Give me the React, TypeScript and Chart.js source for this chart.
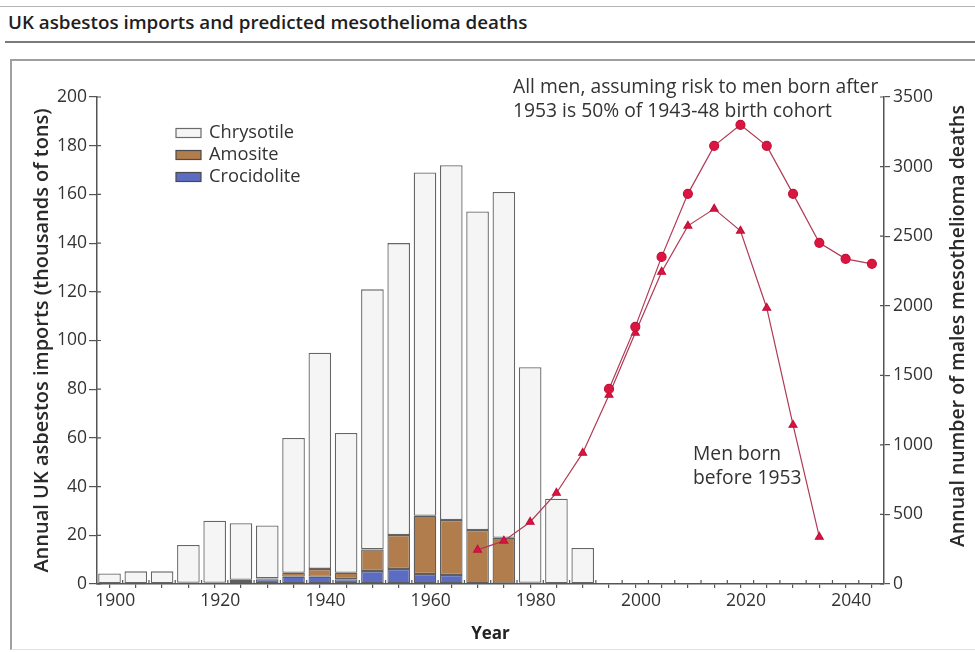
import React, { useEffect, useRef } from 'react';
import { Chart, registerables } from 'chart.js';

Chart.register(...registerables);

// ---------- data ----------
const barYears = [1900, 1905, 1910, 1915, 1920, 1925, 1930, 1935, 1940, 1945, 1950, 1955, 1960, 1965, 1970, 1975, 1980, 1985, 1990];
const crocidolite = [0, 0, 0, 0.5, 0.5, 1.2, 2, 3, 3, 2, 5.3, 6.2, 4.1, 3.7, 0.3, 0.2, 0, 0, 0];
const amosite = [0, 0, 0, 0, 0, 0.5, 0.3, 1.6, 3.2, 2.6, 8.9, 13.9, 23.9, 22.6, 21.9, 18.8, 0.5, 0, 0];
const chrysotile = [4.3, 5.2, 5.2, 15.5, 25.5, 23.3, 21.7, 55.4, 88.8, 57.4, 106.8, 119.9, 141, 145.7, 130.8, 142, 88.5, 35, 14.8];

const bornBeforeYears = [1970, 1975, 1980, 1985, 1990, 1995, 2000, 2005, 2010, 2015, 2020, 2025, 2030, 2035];
const bornBefore1953 = [245, 310, 446, 654, 942, 1359, 1805, 2243, 2574, 2696, 2538, 1984, 1143, 338];

const allMenYears = [1995, 2000, 2005, 2010, 2015, 2020, 2025, 2030, 2035, 2040, 2045];
const allMen = [1402, 1848, 2351, 2804, 3149, 3300, 3149, 2804, 2452, 2337, 2301];

const xTickLabels = ['1900', '1920', '1940', '1960', '1980', '2000', '2020', '2040'];

const seriesLabels = ['Crocidolite', 'Amosite', 'Chrysotile'];
const annotationAllMen = ['All men, assuming risk to men born after', '1953 is 50% of 1943-48 birth cohort'];
const annotationBefore = ['Men born', 'before 1953'];
const leftTitle = 'Annual UK asbestos imports (thousands of tons)';
const rightTitle = 'Annual number of males mesothelioma deaths';
const xTitle = 'Year';
const chartTitle = 'UK asbestos imports and predicted mesothelioma deaths';

// ---------- style ----------
const FONT = '"Open Sans", "Noto Sans", sans-serif';
const AXIS = '#555555';
const TEXT = '#333333';
const C_CHRY = '#f5f5f5';
const C_AMO = '#b27d4c';
const C_CROC = '#5b6cc2';
const C_EDGE = '#5e5e5e';
const C_MARK = '#dc1440';
const C_LINE = '#b03a55';

const toPoints = (xs: number[], ys: number[]) => xs.map((x, i) => ({ x, y: ys[i] }));

const overlayPlugin = {
  id: 'overlay',
  afterDraw(chart: any) {
    const { ctx, chartArea, scales } = chart;
    if (!chartArea || !scales.x || !scales.y || !scales.y2) return;
    ctx.save();
    // inward half of crossing tick marks
    ctx.strokeStyle = AXIS;
    ctx.lineWidth = 1.2;
    ctx.beginPath();
    scales.x.ticks.forEach((t: any) => {
      const px = scales.x.getPixelForValue(t.value);
      ctx.moveTo(px, chartArea.bottom);
      ctx.lineTo(px, chartArea.bottom - 4);
    });
    scales.y.ticks.forEach((t: any) => {
      const py = scales.y.getPixelForValue(t.value);
      ctx.moveTo(chartArea.left, py);
      ctx.lineTo(chartArea.left + 4, py);
    });
    scales.y2.ticks.forEach((t: any) => {
      const py = scales.y2.getPixelForValue(t.value);
      ctx.moveTo(chartArea.right, py);
      ctx.lineTo(chartArea.right - 4, py);
    });
    ctx.stroke();

    // legend (Chrysotile, Amosite, Crocidolite)
    ctx.font = `18.3px ${FONT}`;
    ctx.textBaseline = 'middle';
    ctx.textAlign = 'left';
    [2, 1, 0].forEach((di, i) => {
      const ds = chart.data.datasets[di];
      if (!ds) return;
      const cy = chartArea.top + 36 + i * 22;
      const sx = chartArea.left + 79;
      ctx.fillStyle = ds.backgroundColor;
      ctx.fillRect(sx, cy - 4.5, 25, 9);
      ctx.strokeStyle = di === 2 ? '#6a6a6a' : '#4a4a4a';
      ctx.lineWidth = 1.2;
      ctx.strokeRect(sx, cy - 4.5, 25, 9);
      ctx.fillStyle = TEXT;
      ctx.fillText(ds.label, sx + 33, cy);
    });

    // annotations
    ctx.fillStyle = TEXT;
    ctx.font = `19.3px ${FONT}`;
    annotationAllMen.forEach((s, i) => ctx.fillText(s, chartArea.left + 416, chartArea.top - 9 + i * 24));
    annotationBefore.forEach((s, i) => ctx.fillText(s, chartArea.left + 596, chartArea.top + 358 + i * 24));

    // right axis title (reads bottom to top)
    ctx.save();
    ctx.translate(chartArea.right + 74, chartArea.top + 229);
    ctx.rotate(-Math.PI / 2);
    ctx.textAlign = 'center';
    ctx.font = `600 19.5px ${FONT}`;
    ctx.fillStyle = '#2a2a2a';
    ctx.fillText(rightTitle, 0, 0);
    ctx.restore();

    ctx.restore();
  },
};

export default function App() {
  const ref = useRef<HTMLCanvasElement | null>(null);

  useEffect(() => {
    document.body.style.margin = '0';
    document.body.style.background = '#ffffff';
    const canvas = ref.current;
    if (!canvas) return;

    // bar datasets (stacked bottom-to-top: Crocidolite, Amosite, Chrysotile)
    const barValues = [crocidolite, amosite, chrysotile];
    const barColors = [C_CROC, C_AMO, C_CHRY];
    const barSets = barValues.map((vals, i) => ({
      type: 'bar',
      label: seriesLabels[i],
      data: toPoints(barYears, vals),
      yAxisID: 'y',
      stack: 'imports',
      backgroundColor: barColors[i],
      borderColor: i === 2 ? '#666666' : C_EDGE,
      borderWidth: 1.3,
      borderSkipped: false,
      barPercentage: 0.86,
      categoryPercentage: 1,
      order: 2,
    }));

    const lineSets = [
      {
        type: 'line',
        label: 'All men',
        data: toPoints(allMenYears, allMen),
        yAxisID: 'y2',
        borderColor: C_LINE,
        borderWidth: 1.2,
        backgroundColor: C_MARK,
        pointBackgroundColor: C_MARK,
        pointBorderColor: '#c0123a',
        pointRadius: 4.5,
        pointStyle: 'circle',
        order: 0,
      },
      {
        type: 'line',
        label: 'Men born before 1953',
        data: toPoints(bornBeforeYears, bornBefore1953),
        yAxisID: 'y2',
        borderColor: C_LINE,
        borderWidth: 1.2,
        backgroundColor: C_MARK,
        pointBackgroundColor: C_MARK,
        pointBorderColor: '#c0123a',
        pointRadius: 4.5,
        pointStyle: 'triangle',
        order: 1,
      },
    ];

    const chart = new Chart(canvas, {
      type: 'bar',
      data: { datasets: [...barSets, ...lineSets] },
      options: {
        responsive: true,
        maintainAspectRatio: false,
        animation: false,
        layout: { padding: { top: 36, left: 0, right: 0, bottom: 0 } },
        plugins: { legend: { display: false }, tooltip: { enabled: false }, title: { display: false } },
        scales: {
          x: {
            type: 'linear',
            min: 1897.62,
            max: 2047.3,
            offset: false,
            afterBuildTicks: (scale: any) => {
              const t = [];
              for (let v = 1902.5; v < 2047; v += 5) t.push({ value: v });
              scale.ticks = t;
            },
            afterFit: (scale: any) => {
              scale.height = 68;
            },
            ticks: {
              autoSkip: false,
              maxRotation: 0,
              padding: 3,
              labelOffset: -7.5,
              color: TEXT,
              font: { family: FONT, size: 17.5 },
              callback: (value: any) => {
                const lbl = xTickLabels.find((l) => Math.abs(Number(l) + 2.5 - Number(value)) < 0.01);
                return lbl ?? '';
              },
            },
            grid: { display: true, drawOnChartArea: false, drawTicks: true, tickLength: 4, color: AXIS, lineWidth: 1.2 },
            border: { display: true, color: AXIS, width: 1.5 },
            title: { display: true, text: xTitle, color: '#222', font: { family: FONT, size: 17, weight: 'bold' }, padding: { top: 0, bottom: 8 } },
          },
          y: {
            type: 'linear',
            position: 'left',
            stacked: true,
            min: 0,
            max: 200,
            afterFit: (scale: any) => {
              scale.width = 85;
            },
            ticks: { stepSize: 20, padding: 2, color: TEXT, font: { family: FONT, size: 17.5 } },
            grid: { display: true, drawOnChartArea: false, drawTicks: true, tickLength: 8, color: AXIS, lineWidth: 1.2 },
            border: { display: true, color: AXIS, width: 1.5 },
            title: { display: true, text: leftTitle, color: '#2a2a2a', font: { family: FONT, size: 20, weight: '600' }, padding: { top: 18, bottom: 0 } },
          },
          y2: {
            type: 'linear',
            position: 'right',
            min: 0,
            max: 3500,
            afterFit: (scale: any) => {
              scale.width = 91;
            },
            ticks: {
              stepSize: 500,
              padding: 3,
              color: TEXT,
              font: { family: FONT, size: 17.5 },
              callback: (v: any) => String(v),
            },
            grid: { display: true, drawOnChartArea: false, drawTicks: true, tickLength: 6, color: AXIS, lineWidth: 1.2 },
            border: { display: true, color: AXIS, width: 1.5 },
          },
        },
      },
      plugins: [overlayPlugin],
    } as any);

    return () => chart.destroy();
  }, []);

  return (
    <div style={{ position: 'relative', width: 975, height: 652, overflow: 'hidden', background: '#fff', fontFamily: FONT }}>
      <div style={{ position: 'absolute', left: 0, top: 6, width: 975, height: 1, background: '#b5b5b5' }} />
      <div
        style={{
          position: 'absolute',
          left: 8,
          top: 9,
          fontFamily: FONT,
          fontWeight: 600,
          fontSize: 18.8,
          color: '#1e1e1e',
          whiteSpace: 'nowrap',
        }}
      >
        {chartTitle}
      </div>
      <div style={{ position: 'absolute', left: 5, top: 41, width: 970, height: 2, background: '#7a7a7a' }} />
      <div
        style={{
          position: 'absolute',
          left: 10,
          top: 59,
          width: 980,
          height: 588,
          borderTop: '2px solid #a0a0a0',
          borderLeft: '2px solid #a0a0a0',
          borderBottom: '1px solid #e2e2e2',
        }}
      />
      <div style={{ position: 'absolute', left: 12, top: 61, width: 963, height: 591 }}>
        <canvas ref={ref} />
      </div>
    </div>
  );
}
